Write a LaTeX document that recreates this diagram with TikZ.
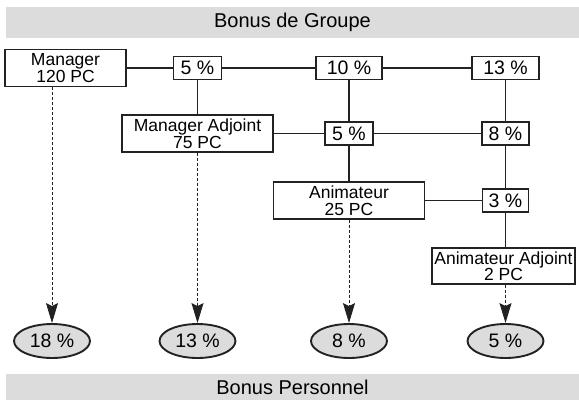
\documentclass[tikz,border=0pt]{standalone}
\usepackage{fontspec}
\setmainfont{Liberation Sans}
\usetikzlibrary{shapes.geometric,arrows.meta}
\definecolor{bandgray}{RGB}{220,220,220}
\definecolor{ink}{RGB}{34,34,34}
\begin{document}
\begin{tikzpicture}[x=1pt,y=-1pt,
	role/.style={draw=ink,line width=1.1pt,fill=white,inner sep=0pt,
		align=center,font=\fontsize{17.5}{16.5}\selectfont},
	pct/.style={draw=ink,line width=1.9pt,fill=white,inner sep=0pt,
		minimum height=23pt,font=\fontsize{19.5}{19.5}\selectfont},
	perso/.style={ellipse,draw=ink,line width=1.9pt,fill=bandgray,inner sep=0pt,
		minimum width=76pt,minimum height=34pt,font=\fontsize{19.5}{19.5}\selectfont},
	link/.style={ink,line width=1.7pt},
	share/.style={ink,line width=.9pt,dash pattern=on 3pt off 2pt,
		-{Stealth[length=20pt,width=12pt,inset=3pt]}}]
	\useasboundingbox (0,0) rectangle (579,400);
	% bandeaux
	\fill[bandgray] (6,7) rectangle (579,38);
	\node[anchor=center,font=\fontsize{20}{20}\selectfont] (groupe) at (292.5,22.5)
		{Bonus de Groupe};
	\fill[bandgray] (6,374) rectangle (579,400);
	\node[anchor=center,font=\fontsize{20}{20}\selectfont] (perso) at (292.5,387)
		{Bonus Personnel};
	% postes
	\node[role,minimum width=121pt,minimum height=37pt] (mgr) at (65.5,68)
		{Manager\\120 PC};
	\node[role,minimum width=151pt,minimum height=37pt] (mgradj) at (197.5,133.5)
		{Manager Adjoint\\75 PC};
	\node[role,minimum width=151pt,minimum height=37pt] (anim) at (349,200.5)
		{Animateur\\25 PC};
	\node[role,minimum width=143pt,minimum height=36pt] (animadj) at (503.5,266)
		{Animateur Adjoint\\2 PC};
	% parts du groupe
	\node[pct,minimum width=48pt] (pA) at (197.5,68) {5 \%};
	\node[pct,minimum width=66pt] (pB) at (349,68) {10 \%};
	\node[pct,minimum width=67pt] (pC) at (505.5,68) {13 \%};
	\node[pct,minimum width=48pt] (pD) at (349,133.5) {5 \%};
	\node[pct,minimum width=47pt] (pE) at (505.5,133.5) {8 \%};
	\node[pct,minimum width=46pt] (pF) at (505.5,200.5) {3 \%};
	% bonus personnels
	\node[perso] (eA) at (52,341) {18 \%};
	\node[perso] (eB) at (197.5,341) {13 \%};
	\node[perso] (eC) at (349,341) {8 \%};
	\node[perso] (eD) at (505.5,341) {5 \%};
	% liaisons
	\draw[link] (mgr) -- (pA) -- (pB) -- (pC);
	\draw[link] (mgradj) -- (pD) -- (pE);
	\draw[link] (anim) -- (pF);
	\draw[link] (pA) -- (mgradj);
	\draw[link] (pB) -- (pD) -- (anim);
	\draw[link] (pC) -- (pE) -- (pF) -- (pF |- animadj.north);
	\draw[share] (mgr.south -| eA) -- (eA);
	\draw[share] (mgradj) -- (eB);
	\draw[share] (anim) -- (eC);
	\draw[share] (animadj.south -| eD) -- (eD);
\end{tikzpicture}
\end{document}
